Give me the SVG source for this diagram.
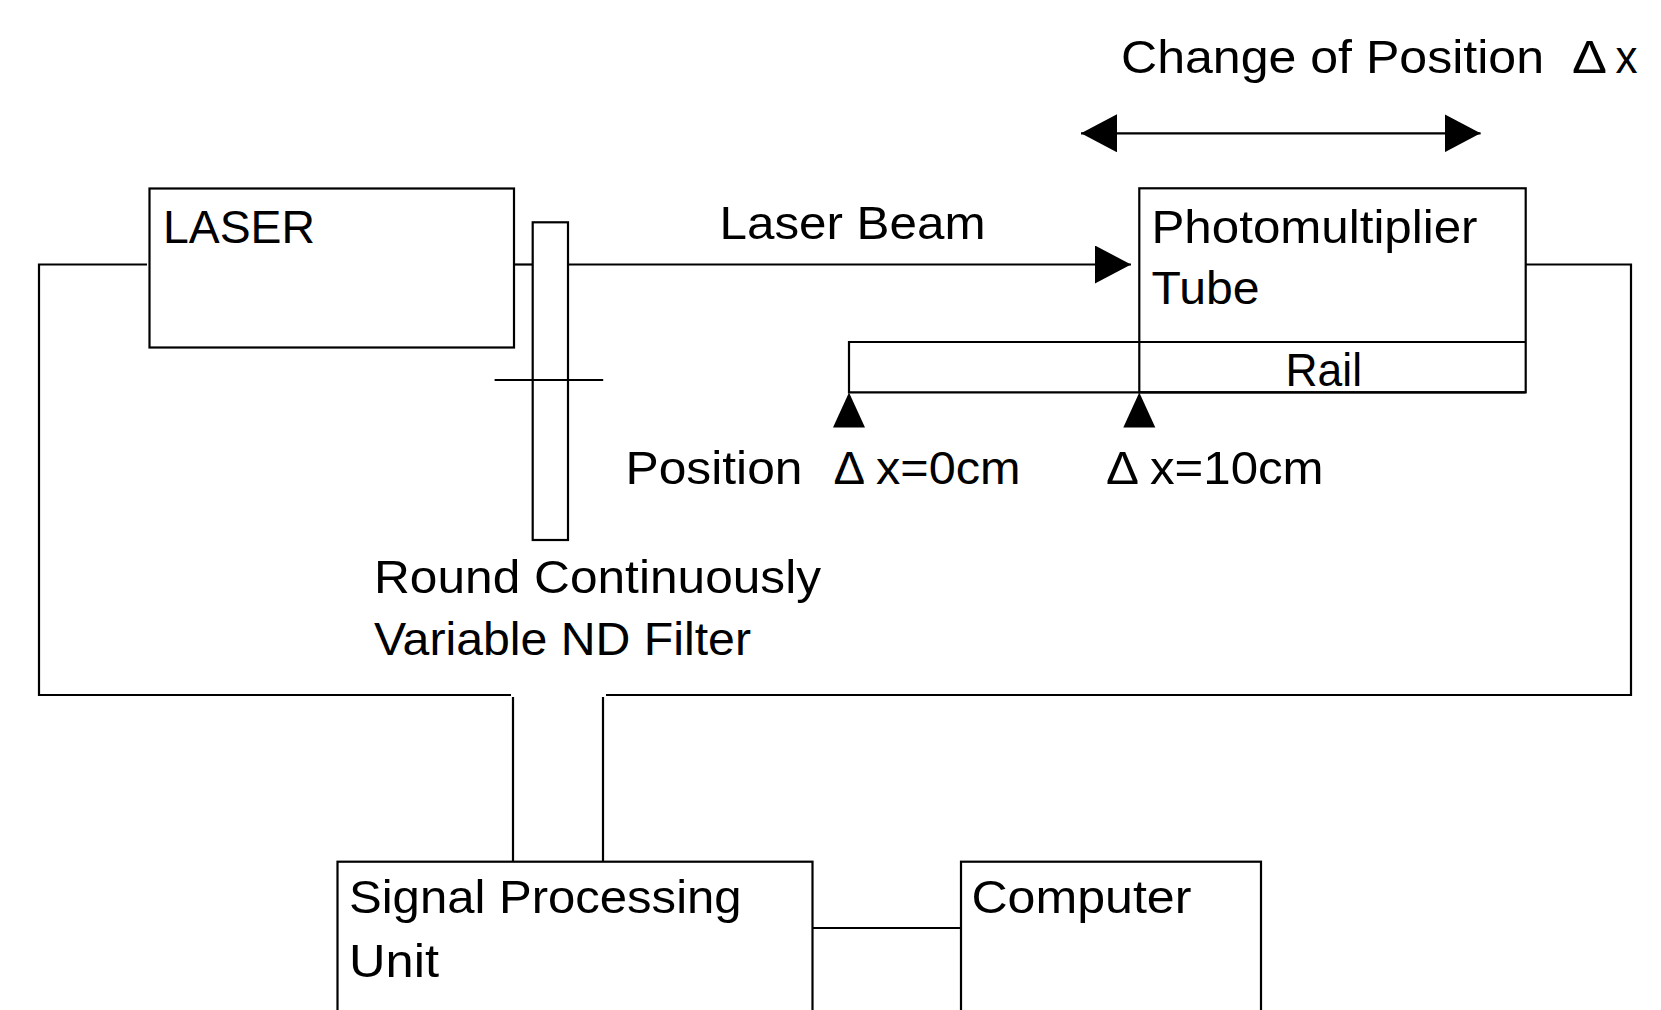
<svg xmlns="http://www.w3.org/2000/svg" width="1661" height="1010" viewBox="0 0 1661 1010">
<style>
.box{fill:#fff;stroke:#000;stroke-width:2.2}
.ln{fill:none;stroke:#000;stroke-width:2.2}
.t{font-family:"Liberation Sans",Arial,sans-serif;font-size:47px;fill:#000}
.mk{fill:#000}
</style>
<defs>
<marker id="ah" viewBox="0 0 36 38" markerWidth="36" markerHeight="38" markerUnits="userSpaceOnUse" refX="36" refY="19" orient="auto-start-reverse">
<path d="M0,0 L36,19 L0,38 z" fill="#000"/>
</marker>
<polygon id="tri" points="0,0 -16,35 16,35"/>
</defs>
<rect width="1661" height="1010" fill="#fff"/>
<g id="connectors">
<polyline class="ln" points="147,264.5 39,264.5 39,695 511,695"/>
<line class="ln" x1="513" y1="697" x2="513" y2="862"/>
<line class="ln" x1="603" y1="697" x2="603" y2="862"/>
<polyline class="ln" points="606,695 1631,695 1631,264.5 1526,264.5"/>
<line class="ln" x1="514" y1="264.5" x2="533" y2="264.5"/>
<line class="ln" x1="568" y1="264.5" x2="1131" y2="264.5" marker-end="url(#ah)"/>
<line class="ln" x1="1081" y1="133.3" x2="1480.6" y2="133.3" marker-start="url(#ah)" marker-end="url(#ah)"/>
<line class="ln" x1="812.5" y1="928" x2="961" y2="928"/>
</g>
<g id="laser">
<rect class="box" x="149.5" y="188.5" width="364.5" height="159"/>
<text class="t" x="163" y="242.7" textLength="152" lengthAdjust="spacingAndGlyphs">LASER</text>
</g>
<g id="nd-filter">
<rect class="box" x="532.7" y="222.3" width="35.3" height="317.7"/>
<line class="ln" x1="494.6" y1="380" x2="603.2" y2="380"/>
<text class="t" y="593.3"><tspan x="374" textLength="447" lengthAdjust="spacingAndGlyphs">Round Continuously</tspan><tspan x="374" y="655" textLength="377" lengthAdjust="spacingAndGlyphs">Variable ND Filter</tspan></text>
</g>
<g id="laser-beam-label">
<text class="t" x="719.5" y="239" textLength="266" lengthAdjust="spacingAndGlyphs">Laser Beam</text>
</g>
<g id="change-label">
<text class="t" y="73.3"><tspan x="1121" textLength="423" lengthAdjust="spacingAndGlyphs">Change of Position</tspan><tspan> </tspan><tspan x="1572" textLength="35" lengthAdjust="spacingAndGlyphs">Δ</tspan><tspan x="1615.5" textLength="22" lengthAdjust="spacingAndGlyphs">x</tspan></text>
</g>
<g id="pmt">
<rect class="box" x="1139.3" y="188.3" width="386.4" height="204"/>
<text class="t" y="243.3"><tspan x="1151.5" textLength="326" lengthAdjust="spacingAndGlyphs">Photomultiplier</tspan><tspan x="1151.5" y="304" textLength="108" lengthAdjust="spacingAndGlyphs">Tube</tspan></text>
</g>
<g id="rail">
<polyline class="ln" points="1525.7,342 849,342 849,392.3 1525.7,392.3"/>
<line class="ln" x1="1139.3" y1="342" x2="1525.7" y2="342"/>
<text class="t" x="1285.5" y="385.7" textLength="76.5" lengthAdjust="spacingAndGlyphs">Rail</text>
</g>
<g id="pos0">
<use href="#tri" class="mk" x="849" y="392.5"/>
<text class="t" y="484"><tspan x="625.5" textLength="177" lengthAdjust="spacingAndGlyphs">Position</tspan><tspan> </tspan><tspan x="833.4" textLength="31.6" lengthAdjust="spacingAndGlyphs">Δ</tspan><tspan x="876" textLength="144.5" lengthAdjust="spacingAndGlyphs">x=0cm</tspan></text>
</g>
<g id="pos10">
<use href="#tri" class="mk" x="1139.3" y="392.5"/>
<text class="t" y="484"><tspan x="1106" textLength="33" lengthAdjust="spacingAndGlyphs">Δ</tspan><tspan x="1150" textLength="173.6" lengthAdjust="spacingAndGlyphs">x=10cm</tspan></text>
</g>
<g id="spu">
<rect class="box" x="337.5" y="861.7" width="475" height="170"/>
<text class="t" y="913"><tspan x="349" textLength="392.6" lengthAdjust="spacingAndGlyphs">Signal Processing</tspan><tspan x="349" y="977" textLength="90" lengthAdjust="spacingAndGlyphs">Unit</tspan></text>
</g>
<g id="computer">
<rect class="box" x="961" y="861.7" width="300" height="170"/>
<text class="t" x="971.4" y="913" textLength="220" lengthAdjust="spacingAndGlyphs">Computer</text>
</g>
</svg>
